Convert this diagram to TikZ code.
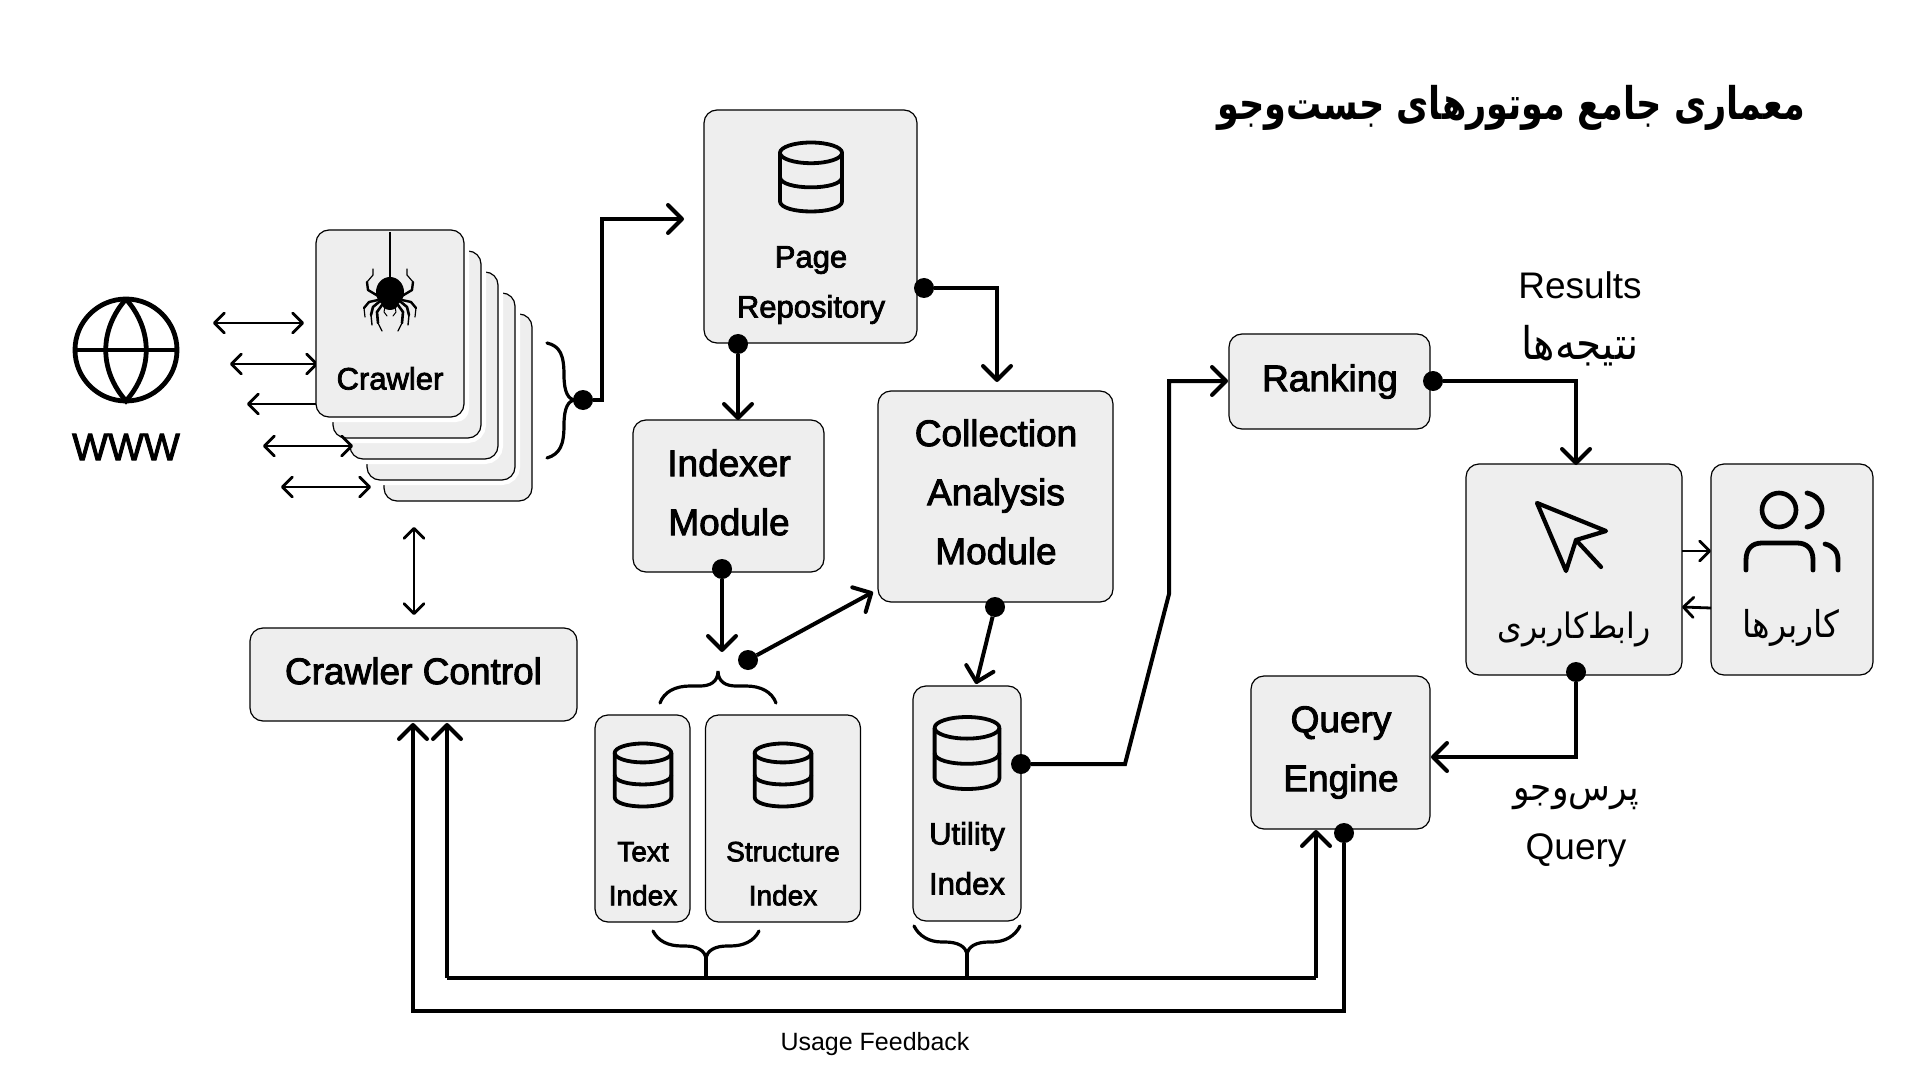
\documentclass[tikz,border=0pt]{standalone}
\usepackage{fontspec}
\usetikzlibrary{arrows.meta}
\setmainfont{Liberation Sans}
\newfontfamily\medf[FakeBold=2.5]{Liberation Sans}
\newfontfamily\regf{Liberation Sans}
\newfontfamily\arf[Script=Arabic,FakeStretch=0.9]{DejaVu Sans}
\newfontfamily\arbf[Script=Arabic,FakeStretch=0.78]{DejaVu Sans Bold}
\TeXXeTstate=1
\definecolor{boxfill}{HTML}{EEEEEE}
\tikzset{
  x=0.5pt,y=-0.5pt,
  box/.style={draw=black,line width=0.6pt,fill=boxfill,rounded corners=6.5pt,inner sep=0pt,outer sep=0pt},
  card/.style={box,preaction={draw=white,line width=5pt}},
  lab/.style={inner sep=0pt,outer sep=0pt,text=black,anchor=center,text height=1em,text depth=.07em},
  ml/.style={lab,yshift=-1.9pt,font=\medf\fontsize{18.5pt}{18.5pt}\selectfont},
  ms/.style={lab,yshift=-.6pt,font=\medf\fontsize{15.5pt}{15.5pt}\selectfont},
  mt/.style={lab,font=\medf\fontsize{14pt}{14pt}\selectfont},
  rg/.style={lab,yshift=-1.9pt,font=\regf\fontsize{18.5pt}{18.5pt}\selectfont},
  fa/.style={inner sep=0pt,outer sep=0pt,text=black,anchor=center},
  heavy/.style={draw=black,line width=2pt,line join=miter},
  arrowed/.style={-{Straight Barb[length=7pt,width=14pt,round]}},
  thin/.style={draw=black,line width=1.4pt},
  thinarrow/.style={thin,{Straight Barb[length=5pt,width=10pt,round]}-{Straight Barb[length=5pt,width=10pt,round]}},
  onearrow/.style={thin,-{Straight Barb[length=5pt,width=10pt,round]}},
  dot/.style={circle,fill=black,draw=none,minimum size=10pt,inner sep=0pt,outer sep=0pt},
  curly/.style={draw=black,line width=1.6pt,line cap=round},
  dbicon/.pic={
    \draw[line width=1.9pt,line join=round] (0,-21) ellipse [x radius=27,y radius=9];
    \draw[line width=1.9pt,line join=round] (-27,-21) -- (-27,21) .. controls (-27,33) and (27,33) .. (27,21) -- (27,-21);
    \draw[line width=1.9pt] (-27,0) .. controls (-27,12) and (27,12) .. (27,0);
  },
}
\begin{document}
\begin{tikzpicture}
\useasboundingbox (0,0) rectangle (1920,1080);
% www
\draw[line width=2.4pt] (126,350) circle [radius=51];
\draw[line width=2.4pt] (75,350) -- (177,350);
\draw[line width=2.4pt] (126,299) .. controls (99,330) and (99,370) .. (126,401) .. controls (153,370) and (153,330) .. (126,299);
\node[ml,font=\medf\fontsize{19pt}{19pt}\selectfont] (www) at (126,447) {WWW};
% cards
\node[card,minimum width=148*.5pt,minimum height=187*.5pt] (c5) at (458,407.5) {};
\node[card,minimum width=148*.5pt,minimum height=187*.5pt] (c4) at (441,386.5) {};
\node[card,minimum width=148*.5pt,minimum height=187*.5pt] (c3) at (424,365.5) {};
\node[card,minimum width=148*.5pt,minimum height=187*.5pt] (c2) at (407,344.5) {};
\fill[white,rounded corners=6.5pt] (311,225) rectangle (469,422);
% arrows between the cards
\coordinate (a1l) at (213,323); \coordinate (a1r) at (304,323);
\coordinate (a2l) at (230,364); \coordinate (a2r) at (318,364);
\coordinate (a3l) at (247,404); \coordinate (a3r) at (330,404);
\coordinate (a4l) at (263,446); \coordinate (a4r) at (353,446);
\coordinate (a5l) at (281,487); \coordinate (a5r) at (371,487);
\draw[thinarrow] (a1l) -- (a1r);
\draw[thinarrow] (a2l) -- (a2r);
\draw[thin,{Straight Barb[length=5pt,width=10pt,round]}-] (a3l) -- (a3r);
\draw[thinarrow] (a4l) -- (a4r);
\draw[thinarrow] (a5l) -- (a5r);
\node[box,minimum width=148*.5pt,minimum height=187*.5pt] (crawler) at (390,323.5) {};
\node[ms] (crawlert) at (390,379) {Crawler};
% spider
\draw[line width=0.6pt] (390,232) -- (390,280);
\fill (390,292) ellipse [x radius=14,y radius=15];
\fill (390,304) ellipse [x radius=8,y radius=6];
\foreach \s in {1,-1}{
\begin{scope}[xshift=390*.5pt,xscale=\s]
\draw[line width=1.2pt,line cap=round,line join=round] (-12,296) -- (-22,290) -- (-23,282);
\draw[line width=.6pt,line cap=round,line join=round] (-23,282) -- (-17,275) -- (-17,269);
\draw[line width=1.2pt,line cap=round,line join=round] (-12,300) -- (-21,302) -- (-26,308);
\draw[line width=.6pt,line cap=round] (-26,308) -- (-25,317);
\draw[line width=1.3pt,line cap=round,line join=round] (-11,302) -- (-17,307) -- (-19,315);
\draw[line width=.7pt,line cap=round] (-19,315) -- (-18,325);
\draw[line width=1.3pt,line cap=round,line join=round] (-8,305) -- (-13,312) -- (-12,323);
\draw[line width=.6pt,line cap=round] (-12,323) -- (-8,331);
\draw[line width=.5pt,line cap=round,line join=round] (-5,307) -- (-6,312) -- (-3,316);
\end{scope}}
% crawler control
\node[box,minimum width=327*.5pt,minimum height=93*.5pt] (ctrl) at (413.5,674.5) {};
\node[ml] (ctrlt) at (413.5,671) {Crawler Control};
\coordinate (ctrlup) at (414,527);
\coordinate (ctrldn) at (414,615);
\draw[thinarrow] (ctrlup) -- (ctrldn);
% page repository
\node[box,minimum width=213*.5pt,minimum height=233*.5pt] (page) at (810.5,226.5) {};
\pic[scale=1.15] at (811,177) {dbicon};
\node[ms] (paget) at (811,257) {Page};
\node[ms] (repot) at (811,307) {Repository};
% indexer
\node[box,minimum width=191*.5pt,minimum height=152*.5pt] (idx) at (728.5,496) {};
\node[ml] (idx1) at (729,463) {Indexer};
\node[ml] (idx2) at (729,522) {Module};
% collection
\node[box,minimum width=235*.5pt,minimum height=211*.5pt] (coll) at (995.5,496.5) {};
\node[ml] (col1) at (996,433) {Collection};
\node[ml] (col2) at (996,492) {Analysis};
\node[ml] (col3) at (996,551) {Module};
% index boxes
\node[box,minimum width=95*.5pt,minimum height=207*.5pt] (txt) at (642.5,818.5) {};
\pic[scale=1.05] at (643,775) {dbicon};
\node[mt] (txt1) at (643,852) {Text};
\node[mt] (txt2) at (643,896) {Index};
\node[box,minimum width=155*.5pt,minimum height=207*.5pt] (str) at (783,818.5) {};
\pic[scale=1.05] at (783,775) {dbicon};
\node[mt] (str1) at (783,852) {Structure};
\node[mt] (str2) at (783,896) {Index};
\node[box,minimum width=108*.5pt,minimum height=235*.5pt] (uti) at (967,803.5) {};
\pic[scale=1.2] at (967,753) {dbicon};
\node[ms] (uti1) at (967,834) {Utility};
\node[ms] (uti2) at (967,884) {Index};
% ranking
\node[box,minimum width=201*.5pt,minimum height=95*.5pt] (rank) at (1329.5,381.5) {};
\node[ml] (rankt) at (1330,378) {Ranking};
% ui
\node[box,minimum width=216*.5pt,minimum height=211*.5pt] (ui) at (1574,569.5) {};
\draw[line width=2.1pt,line join=round,line cap=round] (1537,503) -- (1606,531) -- (1576,540) -- (1566,571) -- cycle;
\draw[line width=2.1pt,line cap=round] (1576,540) -- (1601,567);
\node[fa,font=\arf\fontsize{17.5pt}{17.5pt}\selectfont] (uit) at (1574,629) {\beginR رابط^^^^200cکاربری\endR};
% users
\node[box,minimum width=162*.5pt,minimum height=211*.5pt] (usr) at (1792,569.5) {};
\draw[line width=2.3pt] (1779,510) circle [radius=17];
\draw[line width=2.4pt,line cap=round] (1807,493) .. controls (1827,497) and (1827,523) .. (1807,527);
\draw[line width=2.4pt,line cap=round] (1746,570) -- (1746,560) .. controls (1746,549) and (1752,543) .. (1762,543) -- (1797,543) .. controls (1807,543) and (1813,549) .. (1813,560) -- (1813,570);
\draw[line width=2.4pt,line cap=round] (1825,544) .. controls (1833,546) and (1838,551) .. (1838,560) -- (1838,570);
\node[fa,font=\arf\fontsize{18.5pt}{18.5pt}\selectfont] (usrt) at (1791,628) {\beginR کاربرها\endR};
% query engine
\node[box,minimum width=179*.5pt,minimum height=153*.5pt] (qe) at (1340.5,752.5) {};
\node[ml] (qe1) at (1341,719) {Query};
\node[ml] (qe2) at (1341,778) {Engine};
% free labels
\node[rg] (res) at (1580,285) {Results};
\node[fa,font=\arf\fontsize{22.5pt}{22.5pt}\selectfont] (resf) at (1580,346) {\beginR نتیجه^^^^200cها\endR};
\node[fa,font=\arf\fontsize{19pt}{19pt}\selectfont] (qf) at (1576,798) {\beginR پرس^^^^200cوجو\endR};
\node[rg] (qen) at (1576,846) {Query};
\node[lab,font=\regf\fontsize{12.5pt}{12.5pt}\selectfont] (uf) at (875,1041) {Usage Feedback};
\node[fa,font=\arbf\fontsize{22.5pt}{22.5pt}\selectfont] (title) at (1511,108) {\beginR معماری جامع موتورهای جست^^^^200cوجو\endR};
% braces
\draw[curly] (547,343) .. controls (560,346) and (564,355) .. (564,375) .. controls (564,392) and (568,400) .. (576,400) .. controls (568,400) and (564,408) .. (564,425) .. controls (564,445) and (560,454) .. (547,458);
\draw[curly] (660,703) .. controls (664,692) and (675,686) .. (690,686) -- (700,686) .. controls (710,686) and (718,682) .. (718,671) .. controls (718,682) and (726,686) .. (736,686) -- (746,686) .. controls (761,686) and (772,692) .. (776,703);
\node[dot] (dbr) at (583,400) {};
\node[dot] (dpr) at (924,288) {};
\node[dot] (dpb) at (738,344) {};
\node[dot] (dib) at (722,569) {};
\node[dot] (dix) at (748,660) {};
\node[dot] (dcb) at (995,607) {};
\node[dot] (dur) at (1021,764) {};
\node[dot] (drr) at (1433,381) {};
\node[dot] (dub) at (1576,672) {};
\node[dot] (dqb) at (1344,833) {};
\coordinate (pin) at (684,219);
\coordinate (cin) at (997,382);
\coordinate (iin) at (722,652);
\coordinate (cleft) at (873,592);
\coordinate (uin) at (976,684);
\coordinate (rin) at (1228,381);
\coordinate (uiin) at (1576,465);
\coordinate (qin) at (1431,757);
\coordinate (b1) at (1125,764);
\coordinate (b2) at (1169,594);
\draw[heavy,arrowed] (dbr) -- (602,400) -- (602,219) -- (pin);
\draw[heavy,arrowed] (dpr) -| (cin);
\draw[heavy,arrowed] (dpb) -- (dpb |- idx.north);
\draw[heavy,arrowed] (dib) -- (iin);
\draw[heavy,arrowed] (dix) -- (cleft);
\draw[heavy,arrowed] (dcb) -- (uin);
\draw[heavy,arrowed] (dur) -- (b1) -- (b2) -- (1169,381) -- (rin);
\draw[heavy,arrowed] (drr) -| (uiin);
\draw[heavy,arrowed] (dub) -- (1576,757) -- (qin);
% user links
\coordinate (ul1) at (1682,551); \coordinate (ur1) at (1711,551);
\coordinate (ul2) at (1682,607); \coordinate (ur2) at (1711,608);
\draw[onearrow] (ul1) -- (ur1);
\draw[onearrow] (ur2) -- (ul2);
% feedback
\coordinate (fb1) at (413,1011);
\coordinate (fb2) at (447,978);
\coordinate (fb3) at (1316,978);
\coordinate (fb4) at (1344,1011);
\draw[heavy,arrowed] (dqb) -- (fb4) -- (fb1) -- (413,723);
\draw[heavy,arrowed] (fb3) -- (1316,830);
\draw[heavy] (fb3) -- (fb2);
\draw[heavy,arrowed] (fb2) -- (447,723);
\draw[curly] (653,931) .. controls (658,941) and (668,946) .. (682,946) -- (685,946) .. controls (696,946) and (706,950) .. (706,960) .. controls (706,950) and (716,946) .. (727,946) -- (730,946) .. controls (744,946) and (754,941) .. (759,931);
\draw[heavy] (706,958) -- (706,978);
\draw[curly] (914,926) .. controls (919,936) and (929,942) .. (942,942) -- (945,942) .. controls (957,942) and (967,946) .. (967,956) .. controls (967,946) and (977,942) .. (989,942) -- (992,942) .. controls (1005,942) and (1015,936) .. (1020,926);
\draw[heavy] (967,954) -- (967,978);
\end{tikzpicture}
\end{document}
